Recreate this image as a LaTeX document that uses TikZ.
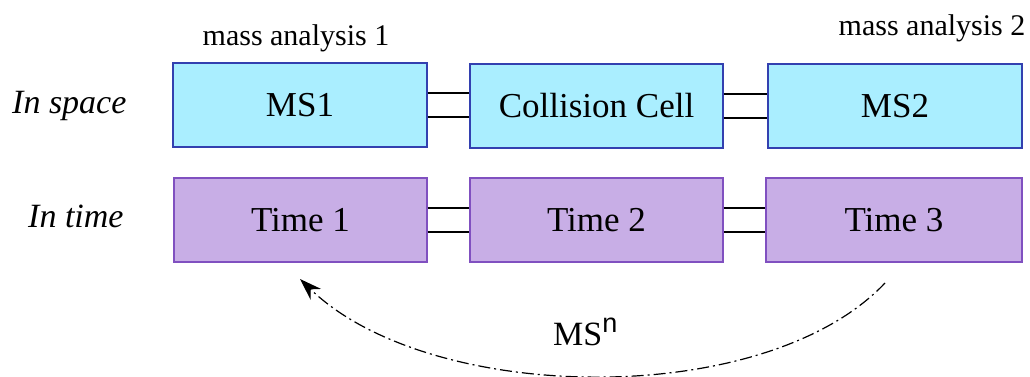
\documentclass[tikz,border=0pt]{standalone}
\usepackage{fontspec}
\setmainfont{Liberation Serif}
\newfontfamily\supsans{Liberation Sans}
\usetikzlibrary{arrows.meta,calc}
\definecolor{spacefill}{HTML}{AAEEFF}
\definecolor{spacedraw}{HTML}{3340B0}
\definecolor{timefill}{HTML}{C8AEE6}
\definecolor{timedraw}{HTML}{8050C0}
\tikzset{
  boxbase/.style={rectangle, minimum height=84pt, inner sep=0pt, line width=1.3pt,
    font=\fontsize{35}{40}\selectfont},
  spacebox/.style={boxbase, fill=spacefill, draw=spacedraw},
  timebox/.style={boxbase, fill=timefill, draw=timedraw},
  rowlabel/.style={anchor=base west, inner sep=0pt, font=\fontsize{34}{38}\selectfont\itshape},
  toplabel/.style={anchor=base, inner sep=0pt, font=\fontsize{30}{34}\selectfont},
  link/.style={line width=1.8pt, black},
  loop/.style={line width=1.2pt, dash pattern=on 12pt off 4pt on 2pt off 4pt,
    -{Stealth[length=22pt,width=15pt]}}
}
\begin{document}
\begin{tikzpicture}[x=1pt,y=-1pt]
\useasboundingbox (0,0) rectangle (1030,376);
% top row
\node[spacebox, minimum width=254pt] (ms1) at (300,105) {MS1};
\node[spacebox, minimum width=253pt] (cc) at (596.5,106) {Collision Cell};
\node[spacebox, minimum width=254pt] (ms2) at (895,106) {MS2};
% bottom row
\node[timebox, minimum width=253pt] (t1) at (300.5,220) {Time 1};
\node[timebox, minimum width=253pt] (t2) at (596.5,220) {Time 2};
\node[timebox, minimum width=256pt] (t3) at (894,220) {Time 3};
% labels
\node[rowlabel] (lsp) at (12,113) {In space};
\node[rowlabel] (lti) at (28,227) {In time};
\node[toplabel] (ma1) at (296,45) {mass analysis 1};
\node[toplabel] (ma2) at (932,35) {mass analysis 2};
% double links
\foreach \a/\b in {ms1/cc, cc/ms2, t1/t2, t2/t3}{
  \draw[link] ([yshift=12pt]\a.east) -- ([yshift=12pt]\a.east -| \b.west);
  \draw[link] ([yshift=-12pt]\a.east) -- ([yshift=-12pt]\a.east -| \b.west);
}
% loop arrow
\coordinate (ls) at (885,283);
\coordinate (le) at (300,279);
\draw[loop] (ls) .. controls (765,410) and (430,405) .. (le);
\node[inner sep=0pt, anchor=base west, font=\fontsize{34}{38}\selectfont] (msn) at (553,345)
  {MS\raisebox{13pt}{\fontsize{27}{30}\selectfont\supsans n}};
\end{tikzpicture}
\end{document}
